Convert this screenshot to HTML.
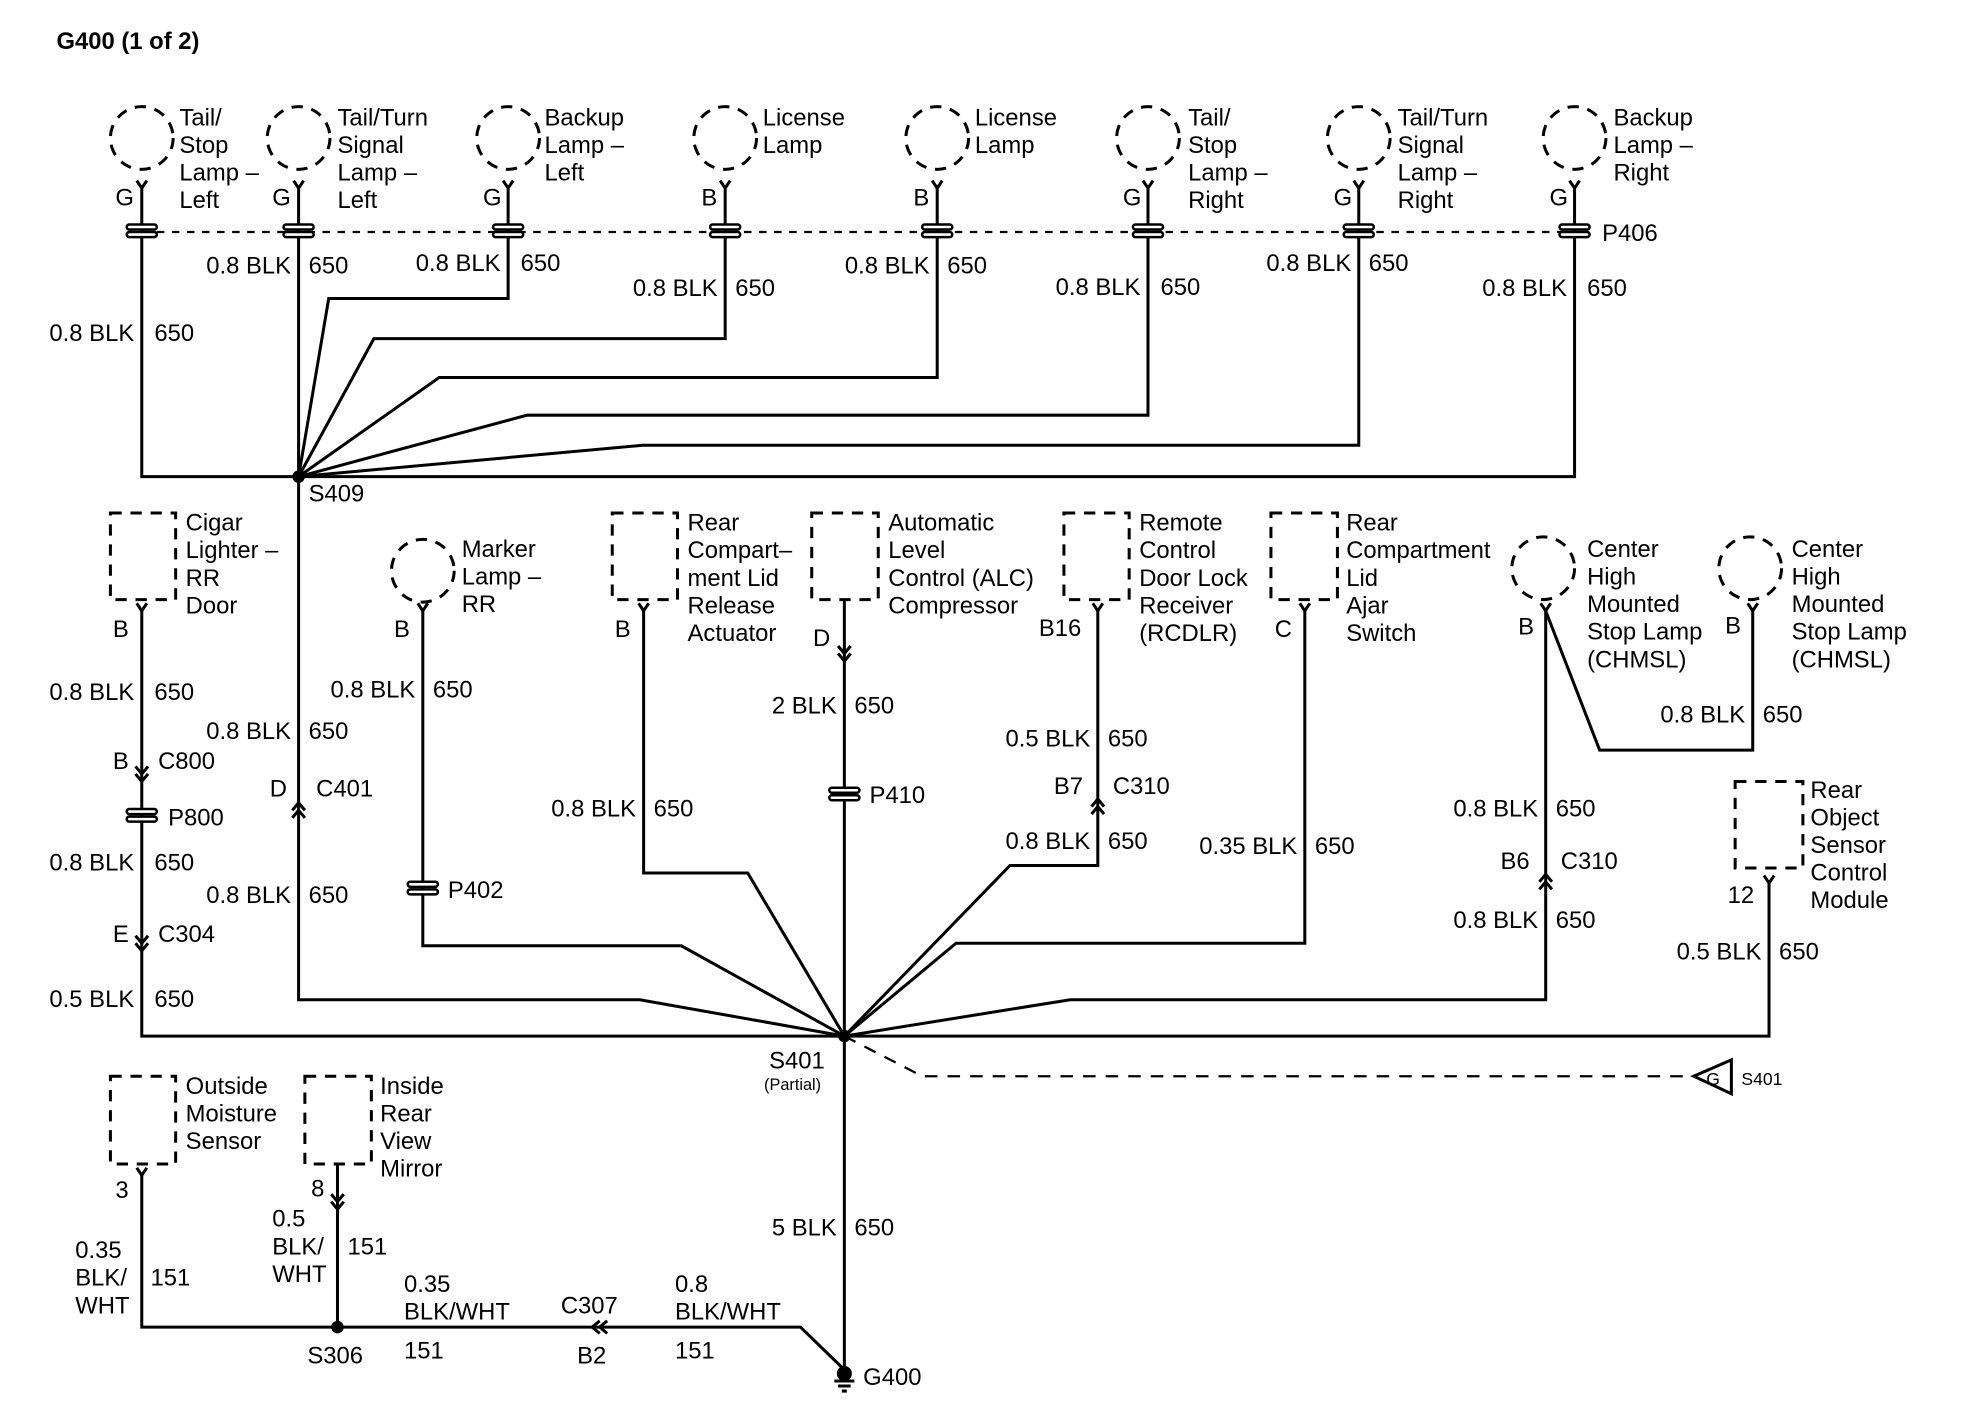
<!DOCTYPE html>
<html><head><meta charset="utf-8"><style>
html,body{margin:0;padding:0;background:#fff;}
svg{display:block;}
text{font-family:"Liberation Sans",Arial,sans-serif;font-size:19px;fill:#000;}
.l{text-anchor:end;}
</style></head><body>
<svg width="1966" height="1408" viewBox="0 0 1567 1122.5" preserveAspectRatio="none" xmlns="http://www.w3.org/2000/svg">
<defs>
<g id="pc"><rect x="-12" y="-5" width="24" height="4" rx="2"/><rect x="-12" y="1" width="24" height="4" rx="2"/></g>
</defs>
<g fill="none" stroke="#000" stroke-width="2.4">
<g stroke-dasharray="9,7">
<circle cx="113" cy="110" r="25"/><circle cx="238" cy="110" r="25"/><circle cx="405" cy="110" r="25"/><circle cx="578" cy="110" r="25"/>
<circle cx="747" cy="110" r="25"/><circle cx="915" cy="110" r="25"/><circle cx="1083" cy="110" r="25"/><circle cx="1255" cy="110" r="25"/>
<circle cx="337" cy="455" r="25"/><circle cx="1230" cy="453" r="25"/><circle cx="1395" cy="453" r="25"/>
<rect x="88" y="409" width="52" height="69"/><rect x="488" y="409" width="52" height="69"/><rect x="647" y="409" width="53" height="69"/>
<rect x="848" y="409" width="52" height="69"/><rect x="1013" y="409" width="53" height="69"/><rect x="1383" y="623" width="54" height="69"/>
<rect x="88" y="858" width="52" height="70"/><rect x="243" y="858" width="53" height="70"/>
</g>
<path d="M113 185 H1255" stroke-dasharray="6,6" stroke-width="1.8"/>
<path d="M673 826 L735 858 H1350" stroke-dasharray="10,8" stroke-width="1.8"/>
<path d="M109 144 L113 150 L117 144 M234 144 L238 150 L242 144 M401 144 L405 150 L409 144 M574 144 L578 150 L582 144 M743 144 L747 150 L751 144 M911 144 L915 150 L919 144 M1079 144 L1083 150 L1087 144 M1251 144 L1255 150 L1259 144"/>
<path d="M109 481 L113 487 L117 481 M333 481 L337 487 L341 481 M509 481 L513 487 L517 481 M871 481 L875 487 L879 481 M1036 481 L1040 487 L1044 481 M1228 481 L1232 487 L1236 481 M1393 481 L1397 487 L1401 481 M1406 698 L1410 704 L1414 698 M109 931 L113 937 L117 931"/>
<path d="M113 150 V380 H1255 V150"/>
<path d="M238 150 V380"/>
<path d="M405 150 V238 H262 L238 380"/>
<path d="M578 150 V270 H298 L238 380"/>
<path d="M747 150 V301 H350 L238 380"/>
<path d="M915 150 V331 H420 L238 380"/>
<path d="M1083 150 V355 H512 L238 380"/>
<path d="M238 380 V797 H510 L673 826"/>
<path d="M113 487 V826 H1410 V704"/>
<path d="M337 487 V754 H543 L673 826"/>
<path d="M513 487 V696 H596 L673 826"/>
<path d="M673 478 V1095"/>
<path d="M875 487 V690 H805 L673 826"/>
<path d="M1040 487 V752 H762 L673 826"/>
<path d="M1232 487 V797 H853 L673 826"/>
<path d="M1232 487 L1275 598 H1397 V487"/>
<path d="M113 937 V1058 H638 L673 1092"/>
<path d="M269 928 V1058"/>
<path d="M108 611 L113 617 L118 611 M108 617 L113 623 L118 617"/>
<path d="M108 746 L113 752 L118 746 M108 752 L113 758 L118 752"/>
<path d="M668 515 L673 521 L678 515 M668 521 L673 527 L678 521"/>
<path d="M264 952 L269 958 L274 952 M264 958 L269 964 L274 958"/>
<path d="M233 646 L238 640 L243 646 M233 652 L238 646 L243 652" />
<path d="M870 643 L875 637 L880 643 M870 649 L875 643 L880 649"/>
<path d="M1227 703 L1232 697 L1237 703 M1227 709 L1232 703 L1237 709"/>
<path d="M478 1053 L472 1058 L478 1063 M484 1053 L478 1058 L484 1063"/>
<path d="M1380 845 L1350 858 L1380 872 Z"/>
<path d="M665 1101 H681 M668 1105 H678 M671 1109 H675"/>
</g>
<g fill="#000">
<circle cx="238" cy="380" r="5"/><circle cx="673" cy="826" r="5"/><circle cx="269" cy="1058" r="5"/><circle cx="673" cy="1095" r="6"/>
</g>
<g fill="#fff" stroke="#000" stroke-width="2">
<use href="#pc" x="113" y="184"/><use href="#pc" x="238" y="184"/><use href="#pc" x="405" y="184"/><use href="#pc" x="578" y="184"/>
<use href="#pc" x="747" y="184"/><use href="#pc" x="915" y="184"/><use href="#pc" x="1083" y="184"/><use href="#pc" x="1255" y="184"/>
<use href="#pc" x="113" y="650"/><use href="#pc" x="337" y="708"/><use href="#pc" x="673" y="633"/>
</g>
<text x="45" y="39" style="font-weight:bold;font-size:19px">G400 (1 of 2)</text>
<g>
<text x="143" y="100">Tail/</text><text x="143" y="122">Stop</text><text x="143" y="144">Lamp –</text><text x="143" y="166">Left</text>
<text x="269" y="100">Tail/Turn</text><text x="269" y="122">Signal</text><text x="269" y="144">Lamp –</text><text x="269" y="166">Left</text>
<text x="434" y="100">Backup</text><text x="434" y="122">Lamp –</text><text x="434" y="144">Left</text>
<text x="608" y="100">License</text><text x="608" y="122">Lamp</text>
<text x="777" y="100">License</text><text x="777" y="122">Lamp</text>
<text x="947" y="100">Tail/</text><text x="947" y="122">Stop</text><text x="947" y="144">Lamp –</text><text x="947" y="166">Right</text>
<text x="1114" y="100">Tail/Turn</text><text x="1114" y="122">Signal</text><text x="1114" y="144">Lamp –</text><text x="1114" y="166">Right</text>
<text x="1286" y="100">Backup</text><text x="1286" y="122">Lamp –</text><text x="1286" y="144">Right</text>
</g>
<g>
<text x="92" y="164">G</text><text x="217" y="164">G</text><text x="385" y="164">G</text><text x="559" y="164">B</text>
<text x="728" y="164">B</text><text x="895" y="164">G</text><text x="1063" y="164">G</text><text x="1235" y="164">G</text>
<text x="1277" y="192">P406</text>
</g>
<g>
<text class="l" x="107" y="272">0.8 BLK</text><text x="123" y="272">650</text>
<text class="l" x="232" y="218">0.8 BLK</text><text x="246" y="218">650</text>
<text class="l" x="399" y="216">0.8 BLK</text><text x="415" y="216">650</text>
<text class="l" x="572" y="236">0.8 BLK</text><text x="586" y="236">650</text>
<text class="l" x="741" y="218">0.8 BLK</text><text x="755" y="218">650</text>
<text class="l" x="909" y="235">0.8 BLK</text><text x="925" y="235">650</text>
<text class="l" x="1077" y="216">0.8 BLK</text><text x="1091" y="216">650</text>
<text class="l" x="1249" y="236">0.8 BLK</text><text x="1265" y="236">650</text>
<text x="246" y="400">S409</text>
</g>
<g>
<text x="148" y="423">Cigar</text><text x="148" y="445">Lighter  –</text><text x="148" y="467">RR</text><text x="148" y="489">Door</text>
<text x="368" y="444">Marker</text><text x="368" y="466">Lamp –</text><text x="368" y="488">RR</text>
<text x="548" y="423">Rear</text><text x="548" y="445">Compart–</text><text x="548" y="467">ment Lid</text><text x="548" y="489">Release</text><text x="548" y="511">Actuator</text>
<text x="708" y="423">Automatic</text><text x="708" y="445">Level</text><text x="708" y="467">Control (ALC)</text><text x="708" y="489">Compressor</text>
<text x="908" y="423">Remote</text><text x="908" y="445">Control</text><text x="908" y="467">Door Lock</text><text x="908" y="489">Receiver</text><text x="908" y="511">(RCDLR)</text>
<text x="1073" y="423">Rear</text><text x="1073" y="445">Compartment</text><text x="1073" y="467">Lid</text><text x="1073" y="489">Ajar</text><text x="1073" y="511">Switch</text>
<text x="1265" y="444">Center</text><text x="1265" y="466">High</text><text x="1265" y="488">Mounted</text><text x="1265" y="510">Stop Lamp</text><text x="1265" y="532">(CHMSL)</text>
<text x="1428" y="444">Center</text><text x="1428" y="466">High</text><text x="1428" y="488">Mounted</text><text x="1428" y="510">Stop Lamp</text><text x="1428" y="532">(CHMSL)</text>
<text x="1443" y="636">Rear</text><text x="1443" y="658">Object</text><text x="1443" y="680">Sensor</text><text x="1443" y="702">Control</text><text x="1443" y="724">Module</text>
</g>
<g>
<text x="90" y="508">B</text><text x="314" y="508">B</text><text x="490" y="508">B</text><text x="648" y="515">D</text>
<text x="828" y="507">B16</text><text x="1016" y="508">C</text><text x="1210" y="506">B</text><text x="1375" y="505">B</text>
<text x="1377" y="720">12</text>
</g>
<g>
<text class="l" x="107" y="558">0.8 BLK</text><text x="123" y="558">650</text>
<text x="90" y="613">B</text><text x="126" y="613">C800</text>
<text x="134" y="658">P800</text>
<text class="l" x="107" y="694">0.8 BLK</text><text x="123" y="694">650</text>
<text x="90" y="751">E</text><text x="126" y="751">C304</text>
<text class="l" x="107" y="803">0.5 BLK</text><text x="123" y="803">650</text>
<text class="l" x="232" y="589">0.8 BLK</text><text x="246" y="589">650</text>
<text x="215" y="635">D</text><text x="252" y="635">C401</text>
<text class="l" x="232" y="720">0.8 BLK</text><text x="246" y="720">650</text>
<text class="l" x="331" y="556">0.8 BLK</text><text x="345" y="556">650</text>
<text x="357" y="716">P402</text>
<text class="l" x="507" y="651">0.8 BLK</text><text x="521" y="651">650</text>
<text class="l" x="667" y="569">2 BLK</text><text x="681" y="569">650</text>
<text x="693" y="640">P410</text>
<text class="l" x="869" y="595">0.5 BLK</text><text x="883" y="595">650</text>
<text x="840" y="633">B7</text><text x="887" y="633">C310</text>
<text class="l" x="869" y="677">0.8 BLK</text><text x="883" y="677">650</text>
<text class="l" x="1034" y="681">0.35 BLK</text><text x="1048" y="681">650</text>
<text class="l" x="1391" y="576">0.8 BLK</text><text x="1405" y="576">650</text>
<text class="l" x="1226" y="651">0.8 BLK</text><text x="1240" y="651">650</text>
<text x="1196" y="693">B6</text><text x="1244" y="693">C310</text>
<text class="l" x="1226" y="740">0.8 BLK</text><text x="1240" y="740">650</text>
<text class="l" x="1404" y="765">0.5 BLK</text><text x="1418" y="765">650</text>
<text x="613" y="852">S401</text>
<text x="609" y="869" style="font-size:13px">(Partial)</text>
<text x="1360" y="865" style="font-size:14px">G</text>
<text x="1388" y="865" style="font-size:14px">S401</text>
</g>
<g>
<text x="148" y="872">Outside</text><text x="148" y="894">Moisture</text><text x="148" y="916">Sensor</text>
<text x="303" y="872">Inside</text><text x="303" y="894">Rear</text><text x="303" y="916">View</text><text x="303" y="938">Mirror</text>
<text x="92" y="955">3</text><text x="248" y="954">8</text>
<text x="60" y="1003">0.35</text><text x="60" y="1025">BLK/</text><text x="60" y="1047">WHT</text><text x="120" y="1025">151</text>
<text x="217" y="978">0.5</text><text x="217" y="1000">BLK/</text><text x="217" y="1022">WHT</text><text x="277" y="1000">151</text>
<text x="322" y="1030">0.35</text><text x="322" y="1052">BLK/WHT</text><text x="322" y="1083">151</text>
<text x="447" y="1047">C307</text><text x="460" y="1087">B2</text>
<text x="538" y="1030">0.8</text><text x="538" y="1052">BLK/WHT</text><text x="538" y="1083">151</text>
<text x="245" y="1087">S306</text>
<text class="l" x="667" y="985">5 BLK</text><text x="681" y="985">650</text>
<text x="688" y="1104">G400</text>
</g>
</svg>
</body></html>
